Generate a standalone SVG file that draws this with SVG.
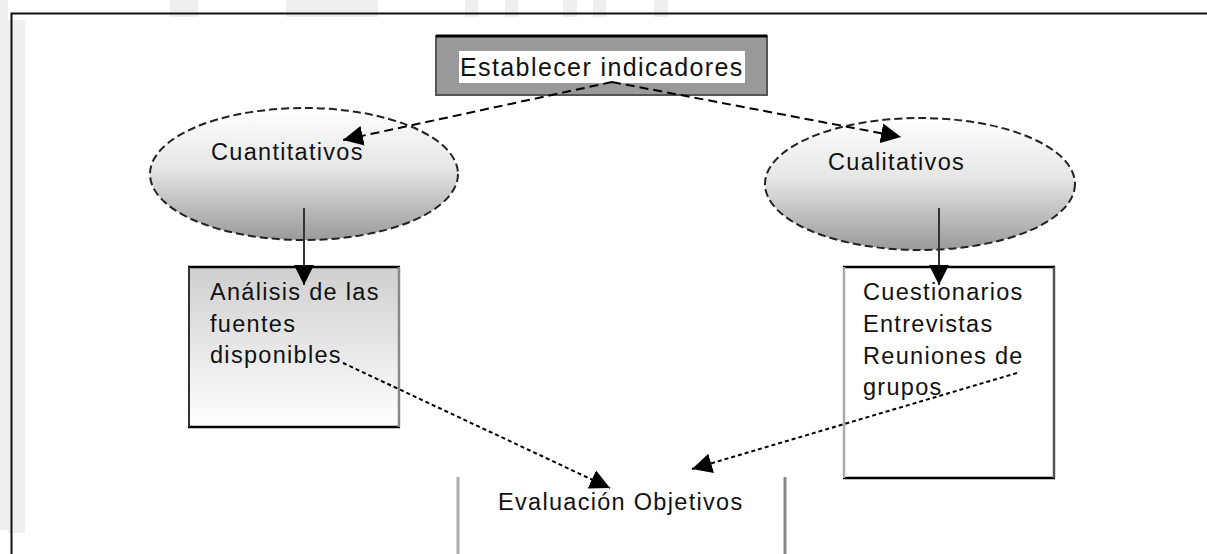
<svg xmlns="http://www.w3.org/2000/svg" width="1207" height="554" viewBox="0 0 1207 554">
<defs>
<style>
text{font-family:"Liberation Sans",Arial,sans-serif;font-size:23.5px;letter-spacing:1.3px;fill:#111}
.dash{fill:none;stroke:#000;stroke-width:2;stroke-dasharray:9,5}
.dot{fill:none;stroke:#000;stroke-width:2;stroke-dasharray:4,3}
.wm{fill:#efefef}
</style>
<linearGradient id="ell" x1="0" y1="0" x2="0" y2="1">
<stop offset="0" stop-color="#ffffff"/>
<stop offset="0.45" stop-color="#e6e6e6"/>
<stop offset="1" stop-color="#9a9a9a"/>
</linearGradient>
<linearGradient id="box" x1="0" y1="0" x2="0" y2="1">
<stop offset="0" stop-color="#cfcfcf"/>
<stop offset="1" stop-color="#ffffff"/>
</linearGradient>
<marker id="ahL" viewBox="0 0 10 10" refX="10" refY="5" markerWidth="20" markerHeight="20" markerUnits="userSpaceOnUse" orient="auto">
<path d="M0,0 L10,5 L0,10 z" fill="#000"/>
</marker>
</defs>
<rect width="1207" height="554" fill="#fff"/>
<g id="watermark">
<rect class="wm" x="0" y="0" width="8" height="530"/>
<rect class="wm" x="8" y="20" width="17" height="513"/>
<rect class="wm" x="170" y="0" width="28" height="17"/>
<rect class="wm" x="286" y="0" width="92" height="17"/>
<rect class="wm" x="465" y="0" width="13" height="17"/>
<rect class="wm" x="505" y="0" width="13" height="17"/>
<rect class="wm" x="563" y="0" width="14" height="17"/>
<rect class="wm" x="593" y="0" width="13" height="17"/>
<rect class="wm" x="654" y="0" width="14" height="17"/>
</g>
<g id="frame">
<path d="M1207,13.5 H11.5 V554" fill="none" stroke="#111" stroke-width="2"/>
</g>
<g id="n-establecer">
<rect x="436" y="36" width="331" height="59" fill="#999" stroke="#555" stroke-width="2"/>
<line x1="436" y1="36" x2="767" y2="36" stroke="#000" stroke-width="3"/>
<rect x="459" y="51" width="286" height="32" fill="#fff"/>
<text x="460" y="76" style="font-size:25px;letter-spacing:1.4px">Establecer indicadores</text>
</g>
<g id="n-cuantitativos">
<ellipse cx="304" cy="174" rx="154" ry="66" fill="url(#ell)" stroke="#222" stroke-width="2" stroke-dasharray="8,4"/>
<text x="211" y="160">Cuantitativos</text>
</g>
<g id="n-cualitativos">
<ellipse cx="920" cy="184" rx="155" ry="66" fill="url(#ell)" stroke="#222" stroke-width="2" stroke-dasharray="8,4"/>
<text x="828" y="170">Cualitativos</text>
</g>
<g id="n-analisis">
<rect x="188" y="267" width="212" height="160" fill="url(#box)"/>
<line x1="188" y1="267" x2="400" y2="267" stroke="#000" stroke-width="2.5"/>
<line x1="188" y1="427" x2="400" y2="427" stroke="#000" stroke-width="2.5"/>
<line x1="189" y1="267" x2="189" y2="427" stroke="#333" stroke-width="2"/>
<line x1="399" y1="267" x2="399" y2="427" stroke="#888" stroke-width="2.5"/>
<text x="210" y="300">Análisis de las</text>
<text x="210" y="332">fuentes</text>
<text x="210" y="363">disponibles</text>
</g>
<g id="n-cuestionarios">
<rect x="843" y="267" width="211" height="211" fill="#fff"/>
<line x1="843" y1="267" x2="1055" y2="267" stroke="#000" stroke-width="2.5"/>
<line x1="843" y1="478" x2="1055" y2="478" stroke="#000" stroke-width="2.5"/>
<line x1="844" y1="267" x2="844" y2="478" stroke="#aaa" stroke-width="2.5"/>
<line x1="1054" y1="267" x2="1054" y2="478" stroke="#555" stroke-width="2.5"/>
<text x="863" y="300">Cuestionarios</text>
<text x="863" y="332">Entrevistas</text>
<text x="863" y="364">Reuniones de</text>
<text x="863" y="395">grupos</text>
</g>
<g id="n-evaluacion">
<line x1="458" y1="477" x2="458" y2="554" stroke="#aaa" stroke-width="3"/>
<line x1="785" y1="477" x2="785" y2="554" stroke="#888" stroke-width="3"/>
<text x="498" y="510">Evaluación Objetivos</text>
</g>
<g id="connectors">
<path class="dash" d="M612,82 L343,140" marker-end="url(#ahL)"/>
<path class="dash" d="M612,82 L901,137" marker-end="url(#ahL)"/>
<path d="M304,208 V285" stroke="#333" stroke-width="2" fill="none" marker-end="url(#ahL)"/>
<path d="M939,208 V285" stroke="#333" stroke-width="2" fill="none" marker-end="url(#ahL)"/>
<path class="dot" d="M343,363 L610,488" marker-end="url(#ahL)"/>
<path class="dot" d="M1017,373 L692,469" marker-end="url(#ahL)"/>
</g>
</svg>
